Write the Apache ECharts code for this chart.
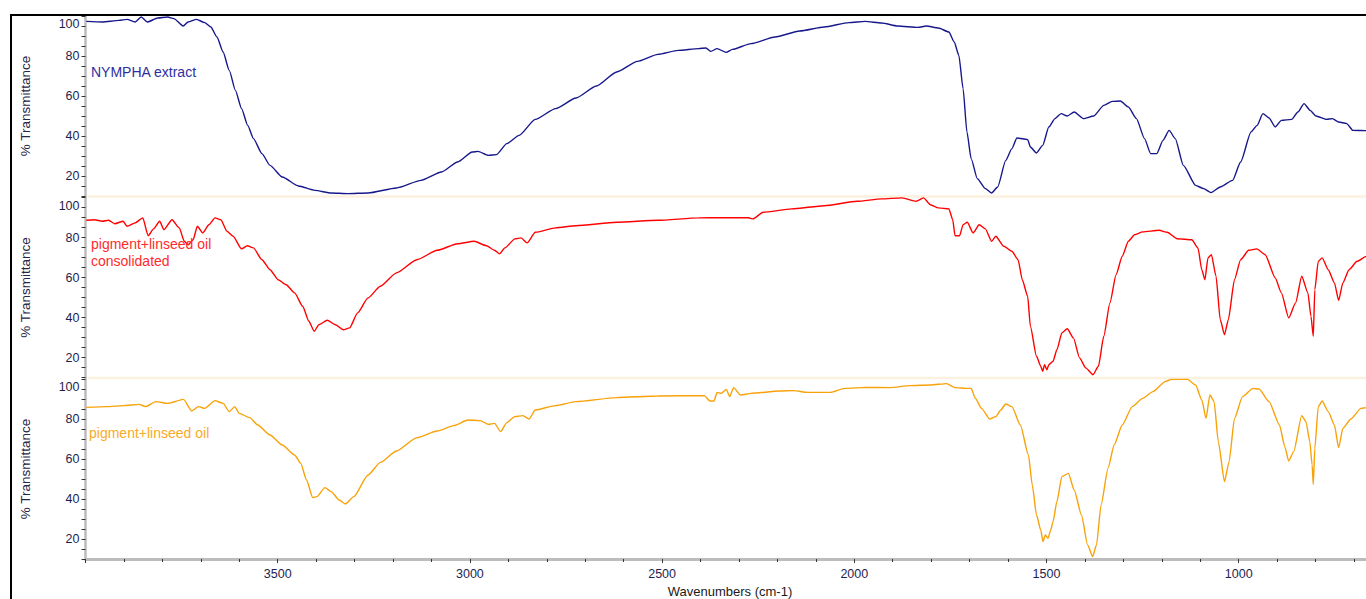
<!DOCTYPE html>
<html>
<head>
<meta charset="utf-8">
<title>FTIR spectra</title>
<script src="https://cdn.jsdelivr.net/npm/echarts@6/dist/echarts.min.js"></script>
<style>
  html, body { margin: 0; padding: 0; background: #ffffff; }
  #chart { width: 1366px; height: 599px; }
</style>
</head>
<body>
<div id="chart"></div>
<script>
// Wavenumber (cm-1) / % transmittance readings for each sample
const nympha = [
  [3998,97.3],[3956,97.0],[3913,97.8],[3892,98.3],[3871,97.0],[3855,99.5],[3839,97.0],[3812,99.0],
  [3786,99.5],[3770,98.7],[3746,95.0],[3733,97.0],[3711,98.3],[3690,96.7],[3674,94.5],[3658,89.5],
  [3642,82.0],[3626,72.8],[3610,62.8],[3594,53.7],[3578,45.3],[3563,38.7],[3541,31.2],[3520,25.3],
  [3488,19.5],[3446,15.0],[3403,12.8],[3361,11.5],[3318,11.2],[3265,11.5],[3191,14.0],[3127,17.8],
  [3074,22.0],[3032,27.0],[2994,32.0],[2979,32.3],[2952,30.3],[2931,30.7],[2904,36.2],[2872,40.3],
  [2830,48.3],[2777,53.7],[2724,59.0],[2671,65.0],[2618,72.0],[2564,77.3],[2511,80.8],[2458,82.8],
  [2405,83.7],[2386,84.0],[2373,82.3],[2357,83.7],[2333,81.8],[2317,83.3],[2269,86.2],[2206,89.5],
  [2142,92.5],[2078,94.5],[2014,96.7],[1972,97.3],[1929,96.5],[1887,95.0],[1834,94.3],[1813,95.0],
  [1781,94.0],[1754,92.0],[1740,87.0],[1728,80.3],[1717,63.7],[1707,42.0],[1696,28.7],[1680,18.7],
  [1659,13.7],[1643,11.5],[1627,14.5],[1606,27.8],[1590,33.7],[1577,39.0],[1549,38.2],[1542,34.5],
  [1526,31.5],[1510,35.3],[1494,44.5],[1478,48.7],[1462,51.2],[1446,50.0],[1428,52.0],[1404,48.7],
  [1377,50.0],[1351,55.3],[1329,57.3],[1308,57.5],[1287,54.5],[1266,48.7],[1245,38.7],[1229,31.2],
  [1213,31.2],[1197,37.8],[1181,42.8],[1165,38.7],[1144,25.3],[1112,15.3],[1091,13.7],[1072,11.7],
  [1048,14.5],[1016,17.8],[995,27.0],[968,42.0],[952,45.3],[937,51.2],[921,49.0],[905,44.5],
  [889,47.8],[862,48.3],[846,52.0],[830,56.2],[814,52.8],[799,50.0],[772,48.3],[756,48.7],
  [740,47.0],[719,46.2],[703,42.8],[668,42.7],[650,42.7]
];

const oilConsolidated = [
  [3998,88.6],[3977,88.9],[3956,88.1],[3940,88.6],[3924,86.9],[3902,88.1],[3892,85.6],[3871,87.3],
  [3851,89.8],[3837,80.9],[3823,84.3],[3807,88.1],[3796,83.9],[3775,88.9],[3756,84.8],[3743,78.1],
  [3733,76.4],[3720,78.9],[3709,85.6],[3695,82.3],[3679,86.4],[3663,89.8],[3648,88.9],[3632,83.1],
  [3616,80.6],[3594,74.3],[3579,75.9],[3563,74.8],[3541,68.9],[3520,63.9],[3499,58.9],[3478,56.4],
  [3456,52.3],[3435,45.6],[3419,38.1],[3405,33.1],[3393,36.4],[3371,38.6],[3350,36.4],[3329,33.9],
  [3313,34.8],[3292,42.3],[3265,49.8],[3233,55.6],[3191,62.3],[3138,68.9],[3085,73.6],[3032,76.9],
  [2989,78.1],[2957,75.9],[2936,73.6],[2923,71.8],[2909,74.8],[2883,79.3],[2867,79.8],[2851,77.3],
  [2830,82.6],[2777,84.8],[2724,85.9],[2618,87.6],[2511,88.6],[2405,89.8],[2333,89.9],[2275,89.9],
  [2264,89.3],[2237,92.6],[2163,94.3],[2078,95.9],[1993,98.1],[1929,99.3],[1876,99.8],[1839,98.1],
  [1820,99.8],[1802,96.4],[1781,94.8],[1754,94.3],[1744,88.9],[1738,80.9],[1726,80.9],[1717,86.4],
  [1706,87.6],[1691,82.3],[1675,86.4],[1659,84.3],[1643,78.1],[1632,80.6],[1611,75.6],[1590,73.1],
  [1574,68.9],[1563,58.9],[1549,50.6],[1542,35.6],[1526,20.6],[1515,15.6],[1510,13.1],[1505,16.4],
  [1499,13.9],[1494,16.4],[1483,18.1],[1473,23.9],[1460,32.3],[1446,34.4],[1430,29.8],[1414,19.8],
  [1398,14.8],[1379,11.4],[1365,15.6],[1351,30.6],[1335,47.3],[1319,61.4],[1303,70.6],[1287,78.1],
  [1271,81.4],[1250,82.8],[1207,83.6],[1186,82.6],[1160,79.4],[1122,78.9],[1106,74.8],[1096,63.9],
  [1088,58.9],[1080,69.8],[1071,71.4],[1059,60.6],[1048,38.9],[1037,31.4],[1027,38.9],[1011,58.9],
  [995,68.9],[974,73.6],[953,74.3],[931,71.4],[905,59.8],[889,52.3],[870,39.8],[852,47.3],
  [836,60.6],[820,52.3],[812,40.6],[806,30.6],[802,53.9],[793,68.1],[783,69.8],[767,63.9],
  [751,57.3],[740,48.6],[729,57.3],[713,63.9],[692,68.1],[668,70.6],[655,71.5]
];

const oilFresh = [
  [3998,85.8],[3945,86.2],[3902,86.7],[3860,87.3],[3844,86.2],[3817,88.7],[3786,87.8],[3745,89.8],
  [3724,84.0],[3706,86.2],[3690,85.3],[3663,89.2],[3642,87.8],[3626,83.7],[3612,86.2],[3600,82.8],
  [3573,80.7],[3552,77.0],[3520,72.0],[3488,67.0],[3456,62.0],[3440,57.8],[3425,49.5],[3409,40.7],
  [3398,41.2],[3377,45.7],[3361,43.7],[3340,39.5],[3324,37.5],[3302,41.2],[3265,52.0],[3233,58.3],
  [3191,64.0],[3138,70.7],[3085,74.0],[3042,76.7],[3005,79.5],[2973,79.2],[2952,77.3],[2936,77.8],
  [2920,73.7],[2904,78.2],[2883,81.2],[2862,81.7],[2846,80.0],[2830,84.5],[2777,86.7],[2724,88.7],
  [2618,90.7],[2511,91.5],[2390,91.7],[2376,89.0],[2365,89.0],[2357,93.3],[2347,92.8],[2333,94.8],
  [2324,91.2],[2314,95.7],[2296,92.0],[2269,92.8],[2195,94.0],[2158,94.2],[2121,93.3],[2062,93.3],
  [2025,95.3],[1972,95.8],[1908,95.7],[1855,96.7],[1802,97.0],[1760,97.7],[1738,95.7],[1706,95.3],
  [1696,95.3],[1685,90.3],[1669,85.3],[1648,80.0],[1632,81.2],[1619,84.5],[1606,87.5],[1590,86.2],
  [1568,77.0],[1547,62.0],[1537,47.0],[1526,32.0],[1515,24.5],[1509,18.7],[1503,22.0],[1496,20.3],
  [1489,24.5],[1483,28.7],[1473,38.7],[1460,51.2],[1443,52.8],[1428,44.5],[1409,32.0],[1393,17.0],
  [1380,11.2],[1370,17.0],[1358,37.0],[1340,55.3],[1324,67.0],[1303,77.0],[1277,86.2],[1250,90.3],
  [1223,93.7],[1191,98.7],[1175,99.8],[1133,99.8],[1112,97.0],[1096,89.5],[1085,80.3],[1075,92.0],
  [1064,88.7],[1053,68.7],[1037,48.7],[1025,58.7],[1011,80.3],[990,91.2],[963,95.3],[947,95.0],
  [921,88.7],[894,77.0],[880,66.2],[870,59.0],[857,63.7],[836,81.7],[825,78.7],[815,68.7],
  [809,57.0],[806,47.3],[802,65.3],[793,86.2],[783,89.0],[767,83.7],[751,77.0],[740,65.7],
  [729,75.3],[708,80.0],[682,85.3],[668,85.7],[655,86.0]
];

const sampleNames = ['NYMPHA extract', 'pigment+linseed oil\nconsolidated', 'pigment+linseed oil'];
const sampleColors = ['#17178c', '#ff0000', '#f8a20a'];
const labelColors = ['#2e2ea2', '#ff2b2b', '#f9aa26'];
const xTickLabels = [3500, 3000, 2500, 2000, 1500, 1000];
const yTickLabels = [20, 40, 60, 80, 100];
const yTitle = '% Transmittance';
const xTitle = 'Wavenumbers (cm-1)';

const FONT = '"Liberation Sans", Arial, Helvetica, sans-serif';
const TICK_COLOR = '#1e1e50';
const AXIS_GREY = '#bcbcbc';

// panel geometry: three stacked plots sharing one wavenumber scale
const plotLeft = 85.5;
const pxPerUnit = 0.3844;
const xMin = 500, xMax = 4000;
const panelTops = [16, 197.5, 379];
const panelHeight = 180;

const grids = panelTops.map(top => ({
  left: plotLeft,
  top: top,
  width: (xMax - xMin) * pxPerUnit,
  height: panelHeight,
  containLabel: false,
  outerBoundsMode: 'none'
}));

const xAxes = panelTops.map((_, i) => ({
  type: 'value',
  gridIndex: i,
  min: xMin,
  max: xMax,
  interval: 500,
  inverse: true,
  show: i === 2,
  axisLine: { show: true, onZero: false, lineStyle: { color: AXIS_GREY, width: 3 } },
  axisTick: { show: true, length: 4, lineStyle: { color: '#333', width: 1 } },
  minorTick: { show: true, splitNumber: 5, length: 3, lineStyle: { color: '#333', width: 1 } },
  axisLabel: {
    fontSize: 12.5, fontFamily: FONT, color: TICK_COLOR, margin: 8,
    formatter: v => (xTickLabels.includes(v) ? String(v) : '')
  },
  splitLine: { show: false }
}));

const yAxes = panelTops.map((_, i) => ({
  type: 'value',
  gridIndex: i,
  min: 10,
  max: 100,
  interval: 5,
  axisLine: { show: true, lineStyle: { color: AXIS_GREY, width: 2.5 } },
  axisTick: { show: true, length: 4, lineStyle: { color: '#333', width: 1 } },
  axisLabel: {
    fontSize: 12.5, fontFamily: FONT, color: TICK_COLOR, margin: 6,
    formatter: v => {
      if (!yTickLabels.includes(v)) return '';
      return v === 100 ? '{top|100}' : String(v);
    },
    rich: {
      top: { fontSize: 12.5, fontFamily: FONT, color: TICK_COLOR, padding: [16, 0, 0, 0] }
    }
  },
  splitLine: { show: false }
}));

const spectra = [nympha, oilConsolidated, oilFresh];
const series = spectra.map((data, i) => ({
  type: 'line',
  name: sampleNames[i],
  xAxisIndex: i,
  yAxisIndex: i,
  data: data,
  showSymbol: false,
  smooth: 0.2,
  smoothMonotone: 'x',
  lineStyle: { color: sampleColors[i], width: 1.4 },
  emphasis: { disabled: true }
}));

// panel frames, separators and texts
const graphics = [
  { type: 'rect', shape: { x: 11, y: 15, width: 1420, height: 640 },
    style: { fill: 'none', stroke: '#000000', lineWidth: 2 }, z: 10 },
  { type: 'line', shape: { x1: plotLeft + 2, y1: 196.5, x2: 1366, y2: 196.5 },
    style: { stroke: '#fcf1de', lineWidth: 2.5 }, z: 1 },
  { type: 'line', shape: { x1: plotLeft + 2, y1: 378, x2: 1366, y2: 378 },
    style: { stroke: '#fcf1de', lineWidth: 2.5 }, z: 1 }
];

const labelPos = [[91, 72], [91, 252.5], [89, 433]];
sampleNames.forEach((name, i) => {
  graphics.push({
    type: 'text',
    x: labelPos[i][0],
    y: labelPos[i][1],
    style: {
      text: name, fill: labelColors[i], font: '14px ' + FONT,
      lineHeight: 17, textAlign: 'left', textVerticalAlign: 'middle', align: 'left', verticalAlign: 'top'
    },
    z: 20
  });
});

panelTops.forEach(top => {
  graphics.push({
    type: 'text',
    x: 25,
    y: top + panelHeight / 2,
    rotation: Math.PI / 2,
    style: {
      text: yTitle, fill: '#262648', font: '13.5px ' + FONT,
      textAlign: 'center', textVerticalAlign: 'middle', align: 'center', verticalAlign: 'middle'
    },
    z: 20
  });
});

graphics.push({
  type: 'text',
  x: 730,
  y: 591,
  style: {
    text: xTitle, fill: '#1a1a1a', font: '13px ' + FONT,
    textAlign: 'center', textVerticalAlign: 'middle', align: 'center', verticalAlign: 'middle'
  },
  z: 20
});

const chart = echarts.init(document.getElementById('chart'), null, { renderer: 'svg' });
chart.setOption({
  animation: false,
  backgroundColor: '#ffffff',
  grid: grids,
  xAxis: xAxes,
  yAxis: yAxes,
  series: series,
  graphic: { elements: graphics }
});
</script>
</body>
</html>
